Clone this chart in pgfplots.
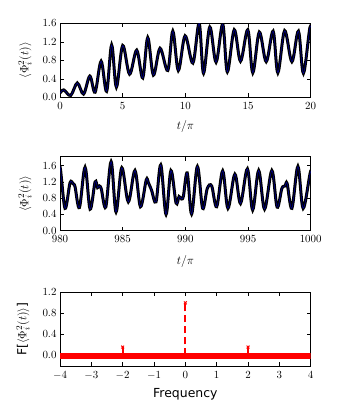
\documentclass[border=0pt]{standalone}
\usepackage{fontspec}
\usepackage{pgfplots}
\pgfplotsset{compat=1.18}
\newfontfamily\dejavu{DejaVu Sans}

\pgfplotsset{
  panel/.style={
    scale only axis,
    width=250.7bp,
    height=74bp,
    anchor=north west,
    tick align=inside,
    major tick length=4bp,
    axis line style={line width=0.8bp},
    every tick/.style={black, line width=0.6bp},
    tick label style={font=\fontsize{10.5}{13}\selectfont},
    xticklabel style={yshift=-1.5bp},
    label style={font=\fontsize{12.5}{14}\selectfont},
    yticklabel style={/pgf/number format/fixed, /pgf/number format/zerofill, /pgf/number format/precision=1},
    ylabel style={at={(axis description cs:-0.14,0.5)}, anchor=center},
  },
  sig/.style={black, line width=3bp, smooth, tension=0.55, mark=none},
  sigb/.style={blue!70!black, line width=0.45bp, smooth, tension=0.55, mark=none},
}

\begin{document}
\begin{tikzpicture}
\useasboundingbox (0,0) rectangle (340bp,-420bp);

% top: early times
\begin{axis}[panel,
  at={(60bp,-23.3bp)},
  xmin=0, xmax=20, ymin=0, ymax=1.6,
  xtick={0,5,10,15,20}, ytick={0,0.4,0.8,1.2,1.6},
  xlabel={$t/\pi$}, ylabel={$\langle\Phi_i^2(t)\rangle$},
  xlabel style={at={(axis description cs:0.5,-0.39)}, anchor=center},
]
\pgfplotstableread{
t v
0 0.09
0.3 0.16
0.85 0.04
1.38 0.31
1.88 0.07
2.38 0.46
2.8 0.11
3.28 0.78
3.72 0.13
4.12 1.13
4.5 0.22
5.0 1.12
5.55 0.5
6.12 1.02
6.6 0.42
7.0 1.29
7.45 0.48
7.98 1.06
8.6 0.58
9.0 1.43
9.44 0.58
9.98 1.33
10.6 0.74
11.1 1.6
11.45 0.52
11.95 1.52
12.45 0.76
12.98 1.58
13.35 0.55
13.9 1.46
14.4 0.78
14.98 1.46
15.38 0.53
15.9 1.41
16.45 0.77
17.0 1.43
17.38 0.53
17.92 1.44
18.5 0.77
19.02 1.43
19.42 0.52
19.95 1.52
20.2 1.3
}\early
\addplot[sig] table {\early};
\addplot[sigb] table {\early};
\end{axis}

% middle: late times
\begin{axis}[panel,
  at={(60bp,-156.7bp)},
  xmin=980, xmax=1000, ymin=0, ymax=1.82,
  xtick={980,985,990,995,1000}, ytick={0,0.4,0.8,1.2,1.6},
  xticklabel style={/pgf/number format/.cd, fixed, precision=0, set thousands separator={}},
  xlabel={$t/\pi$}, ylabel={$\langle\Phi_i^2(t)\rangle$},
  xlabel style={at={(axis description cs:0.5,-0.42)}, anchor=center},
]
\pgfplotstableread{
t v
979.8 1.2
980 1.58
980.4 0.55
980.8 1.18
981.05 1.15
981.2 1.08
981.55 0.57
982.0 1.56
982.4 0.53
982.8 1.2
983.0 1.06
983.15 1.1
983.3 1.02
983.65 0.58
984.08 1.7
984.47 0.46
984.93 1.55
985.45 0.71
985.98 1.48
986.42 0.59
986.88 1.25
987.05 1.18
987.3 1.0
987.66 0.71
988.04 1.62
988.46 0.40
988.85 1.48
989.26 0.68
989.5 0.84
989.7 0.78
989.85 0.86
990.15 1.42
990.5 0.41
990.96 1.58
991.38 0.55
991.75 1.04
992.1 1.1
992.5 0.59
992.98 1.47
993.4 0.55
993.95 1.39
994.4 0.67
994.95 1.52
995.37 0.51
995.85 1.48
996.32 0.53
996.9 1.48
997.32 0.58
997.7 1.04
997.95 1.1
998.12 1.16
998.5 0.55
998.98 1.58
999.4 0.55
1000 1.47
1000.2 1.2
}\late
\addplot[sig] table {\late};
\addplot[sigb] table {\late};
\end{axis}

% bottom: spectrum
\begin{axis}[panel,
  at={(60bp,-292.3bp)},
  height=73.7bp,
  xmin=-4, xmax=4, ymin=-0.2, ymax=1.2,
  xtick={-4,-3,-2,-1,0,1,2,3,4}, ytick={0,0.4,0.8,1.2},
  xticklabel style={/pgf/number format/.cd, fixed, precision=0},
  xlabel={{\dejavu Frequency}},
  ylabel={{\dejavu F[}$\langle\Phi_i^2(t)\rangle${\dejavu ]}},
  xlabel style={at={(axis description cs:0.5,-0.39)}, anchor=center},
  ylabel style={at={(axis description cs:-0.148,0.5)}, anchor=center},
]
\addplot[red, line width=5.5bp, mark=none] coordinates {(-4,-0.01) (4,-0.01)};
\addplot[red, line width=1.7bp, dash pattern=on 7bp off 4bp, mark=none] coordinates {(0,0) (0,1.0)};
\addplot[red, line width=1.7bp, mark=none] coordinates {(-2,0) (-2,0.16)};
\addplot[red, line width=1.7bp, mark=none] coordinates {(2,0) (2,0.16)};
\addplot[red, only marks, mark=x, mark size=2bp, mark options={line width=1bp}]
  coordinates {(-2.9,0.0) (-2,0.16) (0,1.0) (2,0.16) (2.9,0.0)};
\end{axis}
\end{tikzpicture}
\end{document}
